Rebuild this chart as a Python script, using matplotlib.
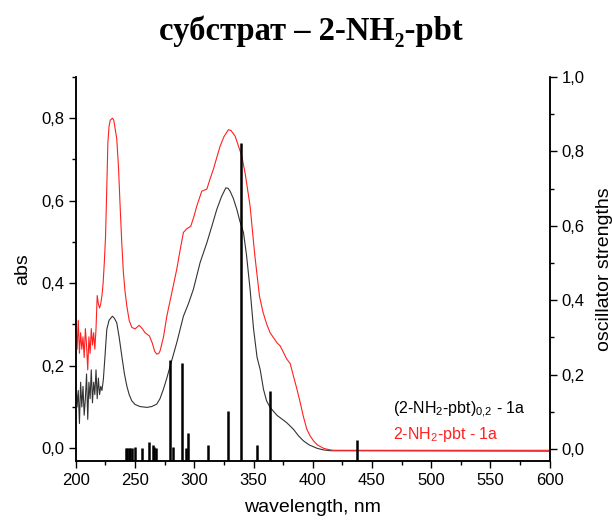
import numpy as np
import matplotlib
matplotlib.use("Agg")
import matplotlib.pyplot as plt
from matplotlib.ticker import MultipleLocator, FuncFormatter

plt.rcParams['font.family'] = ['Liberation Sans', 'DejaVu Sans']
plt.rcParams['mathtext.default'] = 'regular'

# absorption spectrum, 2-NH2-pbt - 1a (red)
wl_red = [200, 201, 202, 203, 204, 205, 206, 207, 208, 209, 210, 211, 212, 213, 214, 215, 216, 217,
          218, 219, 220, 221, 222, 223, 224, 225, 226, 227, 228, 229, 230.8, 232, 234.5, 236, 237.3,
          238.7, 240.1, 241.5, 243, 245, 247.2, 250, 253.4, 256, 258.4, 262.1, 264.5, 266.5, 268.3,
          270, 271.1, 274, 276.8, 279, 281, 285.2, 288, 290.8, 293.7, 297, 299.5, 302.1, 306.3,
          310.6, 313, 316.1, 319, 321.8, 325, 328.8, 331, 334.5, 337, 340.1, 343, 347.1, 351, 355,
          358, 361.2, 364, 369.7, 372.5, 378.1, 381, 383.7, 386.5, 389.4, 392, 395, 397.8, 400.6,
          404, 409, 413, 417.5, 600]
abs_red = [0.30, 0.24, 0.31, 0.23, 0.28, 0.24, 0.27, 0.22, 0.29, 0.25, 0.19, 0.27, 0.23, 0.29, 0.25, 0.28, 0.24, 0.29,
           0.37, 0.35, 0.34, 0.35, 0.37, 0.40, 0.45, 0.51, 0.62, 0.74, 0.78, 0.795, 0.80, 0.795, 0.75, 0.68, 0.59,
           0.50, 0.426, 0.38, 0.345, 0.31, 0.293, 0.289, 0.298, 0.29, 0.280, 0.272, 0.255, 0.235, 0.228,
           0.23, 0.236, 0.27, 0.32, 0.35, 0.377, 0.434, 0.48, 0.523, 0.532, 0.538, 0.56, 0.587, 0.623,
           0.628, 0.65, 0.676, 0.705, 0.732, 0.755, 0.772, 0.77, 0.756, 0.735, 0.708, 0.665, 0.587, 0.47, 0.369,
           0.33, 0.30, 0.28, 0.256, 0.248, 0.216, 0.205, 0.175, 0.145, 0.111, 0.078, 0.046, 0.03, 0.018,
           0.008, 0.0, -0.003, -0.005, -0.005]

# absorption spectrum, (2-NH2-pbt)0,2 - 1a (black)
wl_blk = [200, 201, 202, 203, 204, 205, 206, 207, 208, 209, 210, 211, 212, 213, 214, 215, 216, 217, 218,
          219, 220, 221, 222, 223.2, 224.5, 226.1, 228, 230.8, 232.5, 234.5, 236.5, 238.8, 241, 243, 245,
          247.2, 250, 254.2, 259.9, 264, 268.3, 271, 273.9, 276.8, 279.6, 285.2, 290.8, 295, 299.2, 304.9,
          310.6, 315, 319, 323, 326.6, 328.5, 330.2, 333, 335.9, 338.5, 341.5, 344, 347.1, 350, 353,
          355.6, 358.4, 361, 364, 369.7, 372.5, 378, 383.7, 388, 392.1, 397, 403.5, 409, 414.7, 600]
abs_blk = [0.17, 0.10, 0.14, 0.06, 0.16, 0.10, 0.15, 0.08, 0.12, 0.18, 0.07, 0.16, 0.12, 0.19, 0.11, 0.16, 0.13, 0.19, 0.12,
           0.17, 0.13, 0.15, 0.14, 0.167, 0.22, 0.288, 0.31, 0.32, 0.315, 0.304, 0.27, 0.223, 0.18, 0.151, 0.13,
           0.115, 0.106, 0.101, 0.099, 0.101, 0.107, 0.12, 0.143, 0.17, 0.199, 0.256, 0.32, 0.35, 0.385, 0.45,
           0.498, 0.54, 0.579, 0.61, 0.631, 0.63, 0.623, 0.605, 0.579, 0.55, 0.523, 0.47, 0.385, 0.29, 0.22,
           0.191, 0.143, 0.115, 0.099, 0.08, 0.074, 0.062, 0.046, 0.03, 0.018, 0.008, 0.0, -0.004, -0.006, -0.007]

# calculated transitions (oscillator strengths)
wl_osc = [242.5, 243.5, 244.5, 245.5, 247.0, 249.8, 255.6, 261.5, 265.2, 266.3, 267.3, 279.8, 281.8,
          289.8, 293.2, 295.0, 311.8, 328.8, 339.1, 352.6, 364.0, 437.3]
f_osc = [0.004, 0.004, 0.004, 0.004, 0.004, 0.005, 0.003, 0.018, 0.010, 0.007, 0.004, 0.239, 0.005,
         0.231, 0.003, 0.042, 0.012, 0.102, 0.822, 0.010, 0.155, 0.024]

fig = plt.figure(figsize=(6.12, 5.23), dpi=100)
ax = fig.add_axes([0.124, 0.1185, 0.774, 0.7345])
ax2 = ax.twinx()

ax.plot(wl_blk, abs_blk, color='#333333', lw=0.8, zorder=3)
ax.plot(wl_red, abs_red, color='#ff2020', lw=0.8, zorder=3)

ax2.set_ylim(-0.032, 1.0)
ax2.vlines(wl_osc, -0.032, f_osc, color='black', lw=1.8)

ax.set_xlim(200, 600)
ax.set_ylim(-0.031, 0.9)

comma = FuncFormatter(lambda v, p: f"{v:.1f}".replace('.', ','))
for a in (ax, ax2):
    a.spines['top'].set_visible(False)
    a.yaxis.set_major_locator(MultipleLocator(0.2))
    a.yaxis.set_minor_locator(MultipleLocator(0.1))
    a.yaxis.set_major_formatter(comma)
    a.tick_params(which='major', length=5, width=1, labelsize=12, direction='out')
    a.tick_params(which='minor', length=3, width=1, direction='out')
    for s in a.spines.values():
        s.set_linewidth(1.1)

ax.xaxis.set_major_locator(MultipleLocator(50))
ax.xaxis.set_minor_locator(MultipleLocator(25))

ax.set_xlabel('wavelength, nm', fontsize=14, labelpad=8)
ax.set_ylabel('abs', fontsize=14, labelpad=7)
ax2.set_ylabel('oscillator strengths', fontsize=14, labelpad=8)

ax.text(468, 0.094, '(2-NH$_2$-pbt)$_{0{,}2}$ - 1a', fontsize=11.5, color='black', va='center')
ax.text(468, 0.034, '2-NH$_2$-pbt - 1a', fontsize=11.5, color='#ff2020', va='center')

fig.text(0.508, 0.94, 'субстрат – 2-NH₂-pbt', fontsize=23.5, fontweight='bold',
         family=['Liberation Serif', 'DejaVu Serif'], ha='center', va='center')

fig.savefig('out.png', dpi=100)
